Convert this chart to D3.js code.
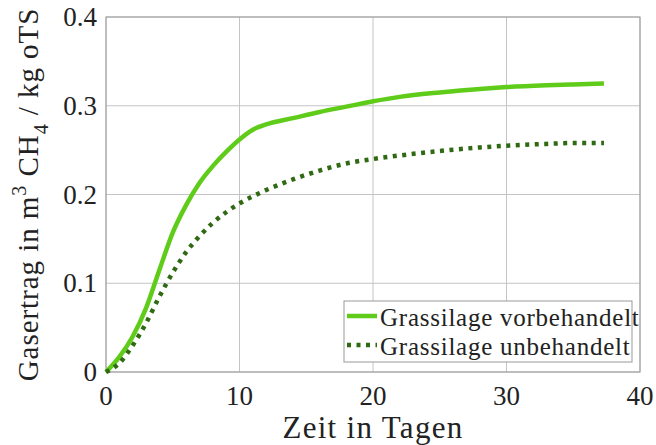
<!DOCTYPE html>
<html>
<head>
<style>
  html, body { margin: 0; padding: 0; background: #fff; }
  svg { display: block; }
  text { font-family: "Liberation Serif", "DejaVu Serif", serif; fill: #222; }
</style>
</head>
<body>
<svg width="656" height="445"></svg>
<script src="https://cdnjs.cloudflare.com/ajax/libs/d3/7.8.5/d3.min.js"></script>
<script>
// days
let days = [0, 1, 2, 3, 4, 5, 6, 7, 8, 9, 10, 11, 12, 14, 16, 18, 20, 22, 25, 28, 30, 33, 35, 37.3];
// vorbehandelt (solid)
let vorbehandelt = [0, 0.017, 0.04, 0.072, 0.115, 0.157, 0.188, 0.213, 0.232, 0.248, 0.262, 0.273, 0.279, 0.286, 0.293, 0.299, 0.305, 0.31, 0.315, 0.319, 0.321, 0.323, 0.324, 0.325];
// unbehandelt (dotted)
let unbehandelt = [0, 0.01, 0.03, 0.055, 0.085, 0.112, 0.135, 0.153, 0.168, 0.18, 0.19, 0.198, 0.205, 0.217, 0.227, 0.235, 0.24, 0.244, 0.249, 0.253, 0.255, 0.257, 0.258, 0.258];
let xTicks = [0, 10, 20, 30, 40];
let yTicks = [0, 0.1, 0.2, 0.3, 0.4];
let names = ["Grassilage vorbehandelt", "Grassilage unbehandelt"];

let margin = {top: 17, right: 16, bottom: 73, left: 106};
let width = 656, height = 445;

let svg = d3.select("svg");

let x = d3.scaleLinear().domain([0, 40]).range([margin.left, width - margin.right]);
let y = d3.scaleLinear().domain([0, 0.4]).range([height - margin.bottom, margin.top]);

// grid
svg.append("g").selectAll("line").data(xTicks).join("line")
    .attr("x1", d => x(d)).attr("x2", d => x(d))
    .attr("y1", y(0)).attr("y2", y(0.4))
    .attr("stroke", "#c4c4c4").attr("stroke-width", 1);
svg.append("g").selectAll("line").data(yTicks).join("line")
    .attr("y1", d => y(d)).attr("y2", d => y(d))
    .attr("x1", x(0)).attr("x2", x(40))
    .attr("stroke", "#c4c4c4").attr("stroke-width", 1);

// box
svg.append("rect")
    .attr("x", x(0)).attr("y", y(0.4))
    .attr("width", x(40) - x(0)).attr("height", y(0) - y(0.4))
    .attr("fill", "none").attr("stroke", "#999").attr("stroke-width", 1);

// tick labels
svg.append("g").selectAll("text").data(xTicks).join("text")
    .attr("x", d => x(d)).attr("y", y(0) + 33)
    .attr("text-anchor", "middle").attr("font-size", 27)
    .text(d => d);
svg.append("g").selectAll("text").data(yTicks).join("text")
    .attr("x", x(0) - 9).attr("y", d => y(d) + 9)
    .attr("text-anchor", "end").attr("font-size", 27)
    .text(d => d === 0 ? "0" : d.toFixed(1));

// lines
let line = d3.line().x((d, i) => x(days[i])).y(d => y(d)).curve(d3.curveMonotoneX);
svg.append("path").attr("d", line(vorbehandelt))
    .attr("fill", "none").attr("stroke", "#5fcc1a").attr("stroke-width", 4.5);
svg.append("path").attr("d", line(unbehandelt))
    .attr("fill", "none").attr("stroke", "#2f6a12").attr("stroke-width", 4.5)
    .attr("stroke-dasharray", "4,5.5");

// axis labels
svg.append("text")
    .attr("x", (x(0) + x(40)) / 2).attr("y", 438)
    .attr("text-anchor", "middle").attr("font-size", 31).attr("letter-spacing", 1.3)
    .text("Zeit in Tagen");

let yl = svg.append("text")
    .attr("transform", "translate(38," + ((y(0) + y(0.4)) / 2) + ") rotate(-90)")
    .attr("text-anchor", "middle").attr("font-size", 29).attr("letter-spacing", 0.95);
yl.append("tspan").text("Gasertrag in m");
yl.append("tspan").attr("dy", -12).attr("font-size", 20).text("3");
yl.append("tspan").attr("dy", 12).text(" CH");
yl.append("tspan").attr("dy", 10).attr("font-size", 20).text("4");
yl.append("tspan").attr("dy", -10).text(" / kg oTS");

// legend
let lg = svg.append("g");
lg.append("rect").attr("x", 344).attr("y", 301).attr("width", 288).attr("height", 61)
    .attr("fill", "#fff").attr("stroke", "#999").attr("stroke-width", 1);
let styles = [{c: "#5fcc1a", dash: null}, {c: "#2f6a12", dash: "4,5.5"}];
names.forEach((n, i) => {
    let yy = 316 + i * 29;
    lg.append("line").attr("x1", 347).attr("x2", 377).attr("y1", yy).attr("y2", yy)
        .attr("stroke", styles[i].c).attr("stroke-width", 4.5)
        .attr("stroke-dasharray", styles[i].dash);
    lg.append("text").attr("x", 380).attr("y", yy + 10)
        .attr("font-size", 25).attr("letter-spacing", 0.75).text(n);
});
</script>
</body>
</html>
